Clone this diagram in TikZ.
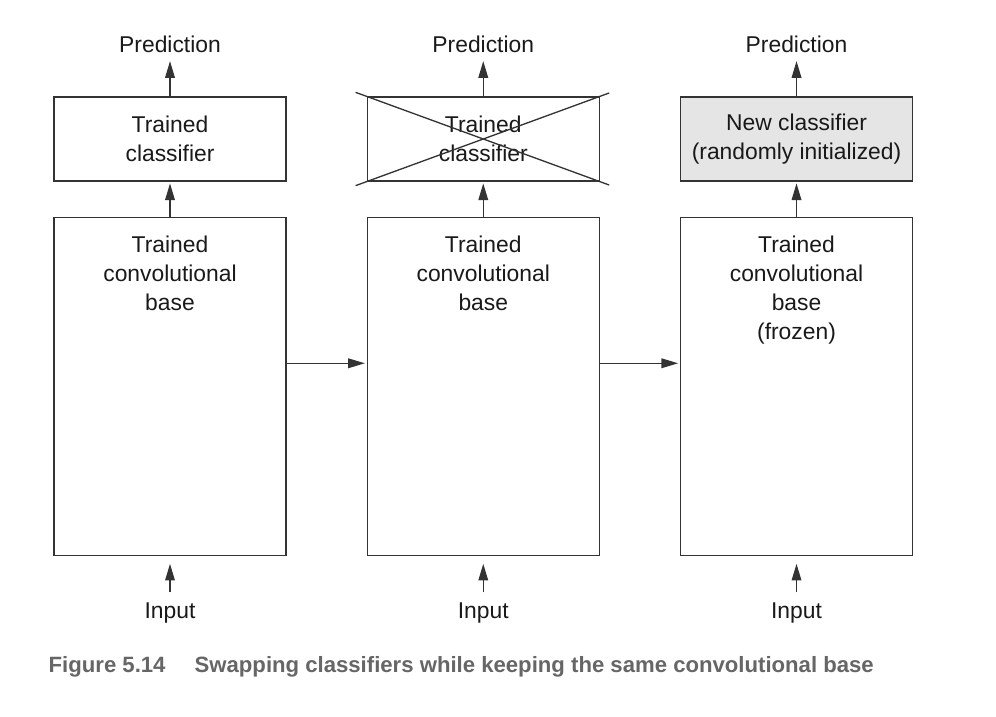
\documentclass[tikz,border=0pt]{standalone}
\usepackage{fontspec}
\setmainfont{Liberation Sans}
\usepackage{tikz}
\usetikzlibrary{arrows.meta,positioning}

\begin{document}
\begin{tikzpicture}[x=0.02cm,y=-0.02cm,->,>={Triangle[length=9.5pt,width=5.5pt]},shorten >=1pt,
                    line width=0.75pt,draw=black!80,text=black!90,
                    box node/.style={rectangle,draw=black!80,minimum width=4.64cm,inner sep=0pt},
                    clf node/.style={box node,minimum height=1.68cm,align=center,
                                     font=\fontsize{13}{16.5}\selectfont},
                    base node/.style={box node,minimum height=6.76cm},
                    text node/.style={align=center,font=\fontsize{13}{16.5}\selectfont},
                    caption node/.style={anchor=west,text=black!60,inner sep=0pt,
                                         font=\fontsize{12.6}{15}\selectfont\bfseries}]

  \useasboundingbox (0,0) rectangle (996,716);

  % classifiers
  \node[clf node] (cls1) at (170,139) {Trained\\classifier};
  \node[clf node] (cls2) [right=1.6cm of cls1] {Trained\\classifier};
  \node[clf node,fill=black!10] (cls3) [right=1.6cm of cls2] {New classifier\\(randomly initialized)};

  % convolutional bases
  \node[base node] (base1) [below=0.7cm of cls1] {};
  \node[base node] (base2) [below=0.7cm of cls2] {};
  \node[base node] (base3) [below=0.7cm of cls3] {};
  \node[text node] (txt1) [below=0.25cm of base1.north] {Trained\\convolutional\\base};
  \node[text node] (txt2) [below=0.25cm of base2.north] {Trained\\convolutional\\base};
  \node[text node] (txt3) [below=0.25cm of base3.north] {Trained\\convolutional\\base\\(frozen)};

  % outputs and inputs
  \node[text node] (pred1) [above=0.74cm of cls1] {Prediction};
  \node[text node] (pred2) [above=0.74cm of cls2] {Prediction};
  \node[text node] (pred3) [above=0.74cm of cls3] {Prediction};
  \node[text node] (in1) [below=0.8cm of base1] {Input};
  \node[text node] (in2) [below=0.8cm of base2] {Input};
  \node[text node] (in3) [below=0.8cm of base3] {Input};

  \foreach \i in {1,2,3}{
    \draw (cls\i) -- (pred\i);
    \draw (base\i) -- (cls\i);
    \draw[shorten <=2pt,shorten >=4.5pt] (in\i) -- (base\i);
  }
  \draw ([yshift=0.46cm]base1.east) -- ([yshift=0.46cm]base2.west);
  \draw ([yshift=0.46cm]base2.east) -- ([yshift=0.46cm]base3.west);

  % crossed out classifier
  \draw[-] ([shift={(-11,-4)}]cls2.north west) -- ([shift={(11,4)}]cls2.south east);
  \draw[-] ([shift={(-11,4)}]cls2.south west) -- ([shift={(11,-4)}]cls2.north east);

  % caption
  \node[caption node] (figno) at (48,667) {Figure 5.14};
  \node[caption node] (figtext) at (194,667) {Swapping classifiers while keeping the same convolutional base};
\end{tikzpicture}
\end{document}
